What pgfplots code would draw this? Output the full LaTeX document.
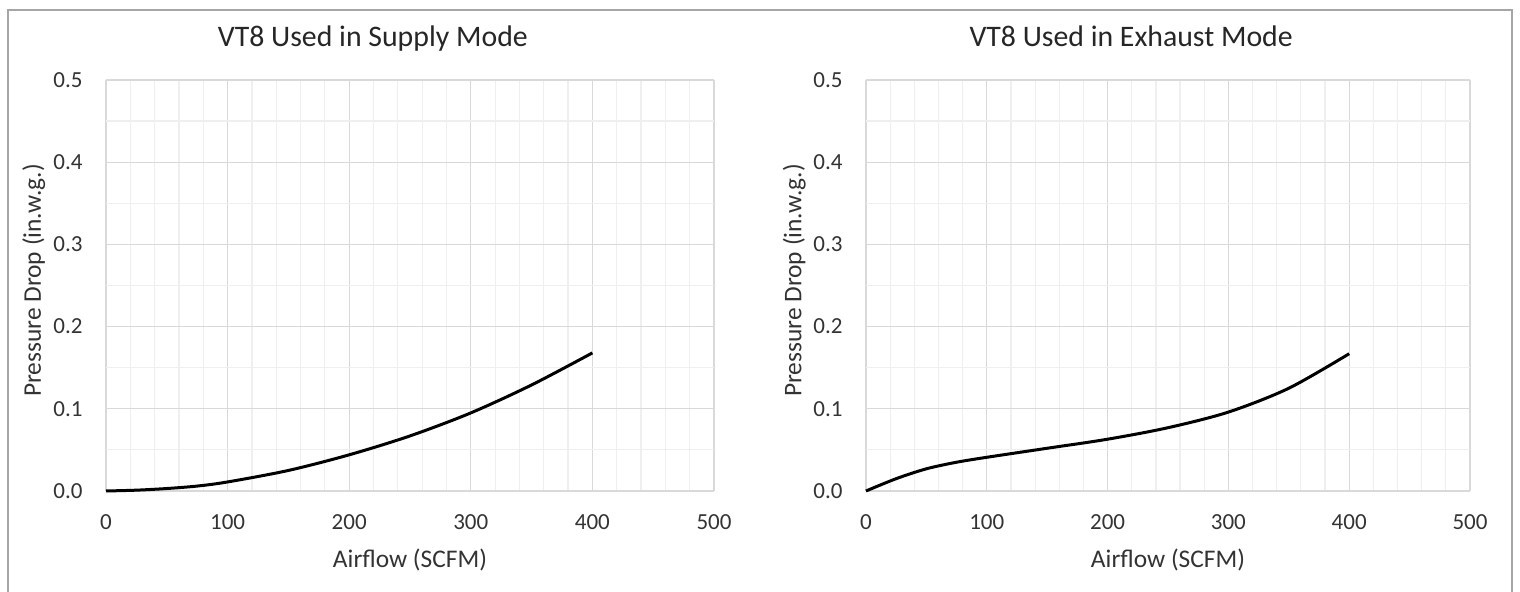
\documentclass[border=0pt]{standalone}
\usepackage{pgfplots}
\pgfplotsset{compat=1.18}
\usepackage{fontspec}
\setmainfont{Carlito}
\definecolor{majgrid}{HTML}{D9D9D9}
\definecolor{mingrid}{HTML}{EFEFEF}
\definecolor{txt}{HTML}{333333}
\definecolor{frame}{HTML}{A6A6A6}

\pgfplotsset{
  vtstyle/.style={
    scale only axis,
    width=304pt, height=205.5pt,
    xmin=0, xmax=500, ymin=0, ymax=0.5,
    xtick={0,100,...,500}, ytick={0,0.1,...,0.5},
    minor x tick num=4, minor y tick num=1,
    grid=both,
    major grid style={majgrid, line width=0.6pt},
    minor grid style={mingrid, line width=0.6pt},
    axis line style={draw=none},
    major tick length=0pt, minor tick length=0pt,
    /pgf/number format/assume math mode=true,
    yticklabel style={/pgf/number format/fixed, /pgf/number format/fixed zerofill, /pgf/number format/precision=1,
      font=\fontsize{11.5}{12}\selectfont, text=txt, inner sep=0pt, anchor=east, xshift=-11.5pt},
    xticklabel style={font=\fontsize{11.5}{12}\selectfont, text=txt, inner sep=0pt, anchor=base, yshift=-19.3pt},
    xlabel={Airflow (SCFM)}, ylabel={Pressure Drop (in.w.g.)},
    label style={font=\fontsize{12.7}{14}\selectfont, text=txt, inner sep=0pt},
    xlabel style={at={(0.5,-0.185)}, anchor=base},
    ylabel style={at={(-0.1072,0.512)}, anchor=base},
    title style={font=\fontsize{14.9}{17}\selectfont, text=black!85, inner sep=0pt, at={(0.439,1.0535)}, anchor=base},
    clip=false,
  },
}

\pgfplotstableread{
x y
0 0
25 0.001
50 0.003
75 0.006
100 0.011
150 0.025
200 0.044
250 0.067
300 0.095
350 0.129
400 0.168
}\supply

\pgfplotstableread{
x y
0 0
25 0.015
50 0.027
75 0.035
100 0.041
150 0.052
200 0.063
250 0.077
300 0.096
350 0.125
400 0.167
}\exhaust

\begin{document}
\begin{tikzpicture}
\useasboundingbox (0,0) rectangle (760pt,296pt);
\draw[frame, line width=0.8pt] (4pt,-5pt) rectangle (756pt,291pt);
\begin{axis}[vtstyle, at={(53pt,50.5pt)}, anchor=south west,
  title={VT8 Used in Supply Mode}]
\addplot[black, line width=1.5pt, smooth] table[x=x, y=y] {\supply};
\end{axis}
\begin{axis}[vtstyle, width=302pt, at={(433pt,50.5pt)}, anchor=south west,
  title={VT8 Used in Exhaust Mode}]
\addplot[black, line width=1.5pt, smooth] table[x=x, y=y] {\exhaust};
\end{axis}
\end{tikzpicture}
\end{document}
